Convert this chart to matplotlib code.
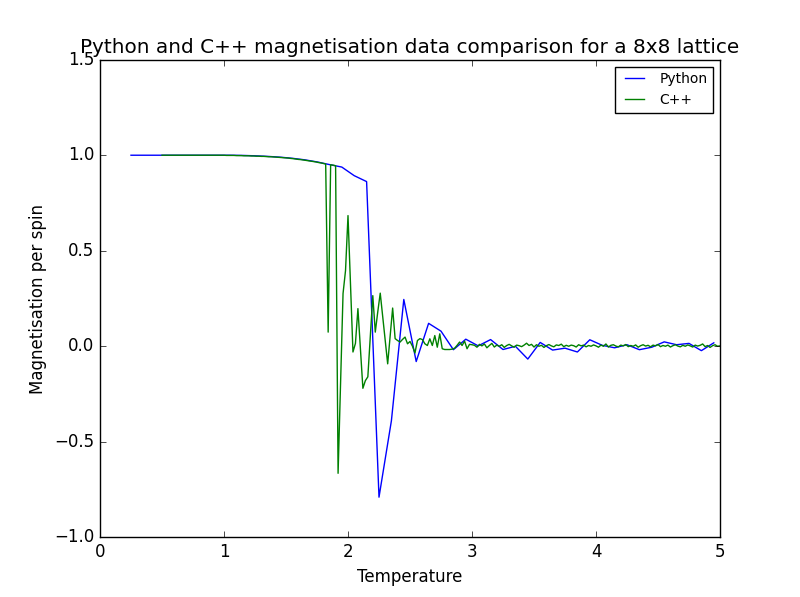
import numpy as np
import matplotlib
matplotlib.use("Agg")
import matplotlib.pyplot as plt

plt.style.use("classic")

# Python simulation: T = 0.25 .. 4.95 step 0.1
py_T_start, py_T_step = 0.25, 0.1
py_mag = [
    1.0, 1.0, 1.0, 1.0, 1.0, 1.0, 1.0, 1.0, 1.0,
    0.999, 0.997, 0.994, 0.990, 0.984, 0.976, 0.965, 0.951, 0.938, 0.893, 0.862,
    -0.79, -0.39, 0.245, -0.08, 0.12, 0.079, -0.018, 0.037, 0.002, 0.035,
    -0.017, 0.0, -0.067, 0.02, -0.02, -0.01, -0.03, 0.034, 0.005, -0.008,
    0.008, -0.018, -0.005, 0.023, 0.008, 0.015, -0.023, 0.018,
]

# C++ simulation: T = 0.50 .. 5.00 step 0.02
cpp_T_start, cpp_T_step = 0.5, 0.02
cpp_mag = [1.0] * 26 + [
    0.999, 0.999, 0.999, 0.999, 0.998, 0.998, 0.998, 0.997, 0.997, 0.997,
    0.996, 0.996, 0.995, 0.995, 0.994, 0.994, 0.993, 0.992, 0.992, 0.991,
    0.990, 0.989, 0.988, 0.987, 0.986, 0.985, 0.983, 0.982, 0.980, 0.978,
    0.977, 0.975, 0.973, 0.971, 0.969, 0.967, 0.965, 0.962, 0.960, 0.957,
    0.954, 0.074, 0.950, 0.948, 0.945, -0.665, -0.19, 0.276, 0.396, 0.684,
    0.33, -0.03, 0.015, 0.197, -0.01, -0.22, -0.18, -0.16, 0.05, 0.265,
    0.074, 0.18, 0.278, 0.155, 0.03, -0.092, 0.055, 0.2, 0.04, 0.03,
    0.022, 0.036, 0.048, 0.013, 0.025, 0.0, -0.035, 0.03, 0.04, 0.035,
    0.013, 0.004, 0.039, 0.004, 0.056, -0.005, 0.065, -0.013, -0.017, -0.017,
    -0.017, -0.015, -0.01, 0.005, 0.022, 0.004, 0.027, -0.013, 0.01, 0.008,
    0.005, -0.005, 0.01, 0.002, 0.012, -0.008, 0.004, 0.015, -0.004, 0.006,
    0.0, 0.008, -0.006, 0.004, 0.01, 0.002, -0.005, 0.006, 0.003, -0.002,
    0.006, 0.016, 0.004, 0.01, -0.004, 0.008, 0.0, 0.005, -0.006, 0.003,
    0.009, 0.002, -0.003, 0.007, 0.004, 0.011, -0.002, 0.005, 0.0, 0.006,
    0.003, -0.004, 0.008, 0.002, 0.006, -0.003, 0.004, 0.0, 0.007, 0.002,
    -0.005, 0.006, 0.0, 0.012, -0.004, 0.005, 0.008, 0.001, -0.003, 0.006,
    0.002, 0.009, -0.002, 0.004, 0.0, 0.007, -0.005, 0.003, 0.008, 0.001,
    0.005, -0.003, 0.006, 0.002, 0.009, -0.002, 0.004, 0.0, 0.006, -0.004,
    0.003, 0.008, 0.001, -0.003, 0.005, 0.0, 0.007, 0.002, -0.004, 0.006,
    0.001, 0.005, 0.012, -0.002, 0.004, -0.006, 0.003, 0.008, 0.0, 0.002,
]

py_T = py_T_start + py_T_step * np.arange(len(py_mag))
cpp_T = cpp_T_start + cpp_T_step * np.arange(len(cpp_mag))

fig = plt.figure(figsize=(8, 5.97), dpi=100)
ax = fig.add_subplot(111)
ax.plot(py_T, py_mag, color="b", label="Python")
ax.plot(cpp_T, cpp_mag, color="g", label="C++")
ax.set_xlim(0, 5)
ax.set_ylim(-1.0, 1.5)
ax.set_title("Python and C++ magnetisation data comparison for a 8x8 lattice")
ax.set_xlabel("Temperature")
ax.set_ylabel("Magnetisation per spin")
ax.legend(loc="upper right", fontsize="small")
fig.savefig("out.png", dpi=100)
